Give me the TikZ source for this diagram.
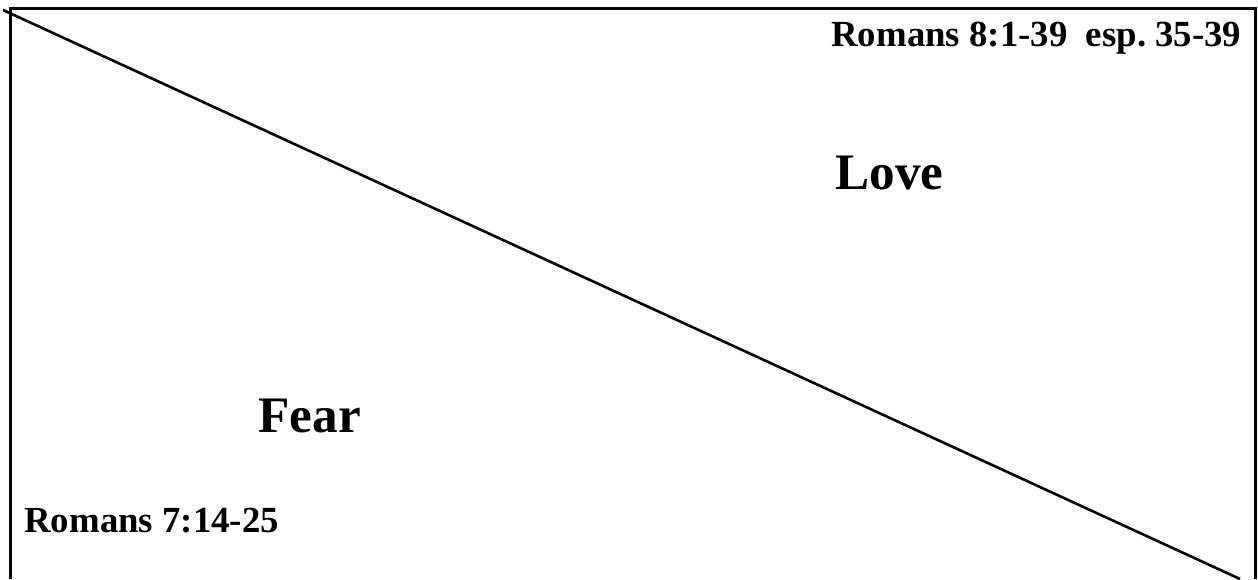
\documentclass[tikz,border=0pt]{standalone}
\usepackage{fontspec}
\setmainfont{Liberation Serif}
\begin{document}
\begin{tikzpicture}[x=0.5pt,y=-0.5pt,
  frame/.style={line width=1.5pt},
  diag/.style={line width=1.3pt},
  big/.style={inner sep=0,anchor=base west,font=\fontsize{25.6}{30}\selectfont\bfseries},
  ref/.style={inner sep=0,anchor=base west,font=\fontsize{18.4}{22}\selectfont\bfseries}]
\useasboundingbox (0,0) rectangle (1258,579);
\coordinate (bl) at (10,579);
\coordinate (tl) at (10,8);
\coordinate (tr) at (1255,8);
\coordinate (br) at (1255,579);
\coordinate (ds) at (3,10);
\coordinate (de) at (1240,579);
\draw[frame] (bl) -- (tl) -- (tr) -- (br);
\draw[diag] (ds) -- (de);
\node[ref] (r8) at (831,46) {Romans 8:1-39\ \ esp.\ 35-39};
\node[big] (love) at (835,189) {Love};
\node[big] (fear) at (258,432) {Fear};
\node[ref] (r7) at (24,532) {Romans 7:14-25};
\end{tikzpicture}
\end{document}
